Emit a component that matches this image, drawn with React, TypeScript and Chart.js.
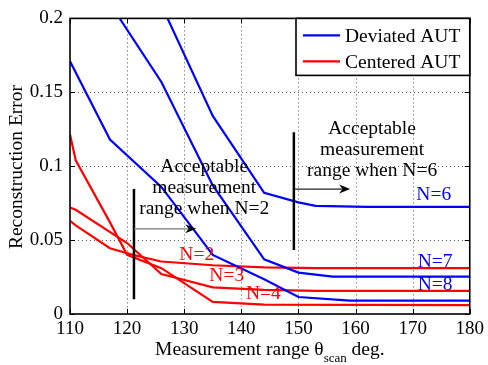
import React, { useEffect, useRef } from "react";
import { Chart, registerables } from "chart.js";

Chart.register(...registerables);

const FONT = '"Liberation Serif", "Times New Roman", serif';

// Axis ticks
const xTickValues = [110, 120, 130, 140, 150, 160, 170, 180];
const xTickLabels = ["110", "120", "130", "140", "150", "160", "170", "180"];
const yTickValues = [0, 0.05, 0.1, 0.15, 0.2];
const yTickLabels = ["0", "0.05", "0.1", "0.15", "0.2"];

// Deviated AUT (blue)
const devN6X = [117, 126, 135, 144, 150, 153, 162, 180];
const devN6Y = [0.285, 0.209, 0.134, 0.082, 0.0755, 0.0732, 0.0725, 0.0725];
const devN7X = [117, 126, 135, 144, 150, 156, 180];
const devN7Y = [0.21, 0.157, 0.087, 0.037, 0.028, 0.0253, 0.0253];
const devN8X = [110, 117, 126, 135, 144, 150, 159, 180];
const devN8Y = [0.171, 0.118, 0.086, 0.04, 0.0235, 0.0115, 0.009, 0.009];

// Centered AUT (red)
const cenN2X = [110, 111, 117, 121, 126, 135, 144, 153, 180];
const cenN2Y = [0.063, 0.06, 0.0445, 0.04, 0.0355, 0.033, 0.0315, 0.031, 0.031];
const cenN3X = [110, 111, 120, 126, 135, 144, 153, 180];
const cenN3Y = [0.072, 0.0705, 0.048, 0.027, 0.018, 0.0163, 0.0157, 0.0156];
const cenN4X = [110, 111, 117, 120, 126, 135, 144, 180];
const cenN4Y = [0.1215, 0.104, 0.062, 0.04, 0.031, 0.0082, 0.0063, 0.006];

const legendLabels = ["Deviated AUT", "Centered AUT"];
const BLUE = "#0000ff";
const RED = "#ff0000";

// Curve labels: [text, x, y, color]
const curveLabels: [string, number, number, string][] = [
  ["N=6", 170.65, 0.0771, BLUE],
  ["N=7", 170.9, 0.0315, BLUE],
  ["N=8", 170.9, 0.016, BLUE],
  ["N=2", 129.15, 0.0365, RED],
  ["N=3", 134.4, 0.022, RED],
  ["N=4", 140.8, 0.01, RED],
];

const note2Lines = ["Acceptable", "measurement", "range when N=2"];
const note6Lines = ["Acceptable", "measurement", "range when N=6"];

function pts(xs: number[], ys: number[]) {
  return xs.map((x, i) => ({ x, y: ys[i] }));
}

function drawArrow(ctx: CanvasRenderingContext2D, x1: number, x2: number, y: number, shaft: string) {
  ctx.save();
  ctx.strokeStyle = shaft;
  ctx.lineWidth = 1.2;
  ctx.beginPath();
  ctx.moveTo(x1, y);
  ctx.lineTo(x2 - 6, y);
  ctx.stroke();
  ctx.fillStyle = "#000";
  ctx.beginPath();
  ctx.moveTo(x2, y);
  ctx.lineTo(x2 - 11, y - 4.5);
  ctx.lineTo(x2 - 7.5, y);
  ctx.lineTo(x2 - 11, y + 4.5);
  ctx.closePath();
  ctx.fill();
  ctx.restore();
}

const gridPlugin = {
  id: "dottedGrid",
  beforeDatasetsDraw(chart: any) {
    const ctx: CanvasRenderingContext2D = chart.ctx;
    const xs = chart.scales.x;
    const ys = chart.scales.y;
    const { left, right, top, bottom } = chart.chartArea;
    ctx.save();
    ctx.strokeStyle = "#555";
    ctx.lineWidth = 1;
    ctx.setLineDash([1, 3]);
    ctx.beginPath();
    xTickValues.slice(1, -1).forEach((v) => {
      const x = Math.round(xs.getPixelForValue(v)) + 0.5;
      ctx.moveTo(x, top);
      ctx.lineTo(x, bottom);
    });
    yTickValues.slice(1, -1).forEach((v) => {
      const y = Math.round(ys.getPixelForValue(v)) + 0.5;
      ctx.moveTo(left, y);
      ctx.lineTo(right, y);
    });
    ctx.stroke();
    ctx.restore();
  },
};

const overlayPlugin = {
  id: "overlay",
  afterDatasetsDraw(chart: any) {
    const ctx: CanvasRenderingContext2D = chart.ctx;
    const xs = chart.scales.x;
    const ys = chart.scales.y;
    const { left, right, top, bottom } = chart.chartArea;
    const px = (v: number) => xs.getPixelForValue(v);
    const py = (v: number) => ys.getPixelForValue(v);

    ctx.save();
    // vertical bars
    ctx.strokeStyle = "#000";
    ctx.lineWidth = 2.5;
    ctx.beginPath();
    ctx.moveTo(px(121.2), py(0.0845));
    ctx.lineTo(px(121.2), py(0.01));
    ctx.moveTo(px(149.2), py(0.123));
    ctx.lineTo(px(149.2), py(0.0433));
    ctx.stroke();
    drawArrow(ctx, px(121.2), px(132.1), py(0.0576), "#777");
    drawArrow(ctx, px(149.2), px(159.05), py(0.0845), "#222");

    // notes
    ctx.font = `19.5px ${FONT}`;
    ctx.fillStyle = "#000";
    ctx.textAlign = "center";
    ctx.textBaseline = "alphabetic";
    note2Lines.forEach((t, i) => ctx.fillText(t, px(133.5), py(0.096) + i * 21));
    note6Lines.forEach((t, i) => ctx.fillText(t, px(162.9), py(0.1217) + i * 21));

    // curve labels
    ctx.textAlign = "left";
    curveLabels.forEach(([t, x, y, c]) => {
      ctx.fillStyle = c;
      ctx.fillText(t, px(x), py(y));
    });

    // inward ticks
    ctx.strokeStyle = "#000";
    ctx.lineWidth = 1;
    ctx.beginPath();
    xTickValues.forEach((v) => {
      const x = Math.round(px(v)) + 0.5;
      ctx.moveTo(x, bottom);
      ctx.lineTo(x, bottom - 5);
      ctx.moveTo(x, top);
      ctx.lineTo(x, top + 5);
    });
    yTickValues.forEach((v) => {
      const y = Math.round(py(v)) + 0.5;
      ctx.moveTo(left, y);
      ctx.lineTo(left + 5, y);
      ctx.moveTo(right, y);
      ctx.lineTo(right - 5, y);
    });
    ctx.stroke();

    // frame
    ctx.lineWidth = 1.6;
    ctx.strokeRect(left, top, right - left, bottom - top);

    // legend
    const lx = 296, ly = top, lw = right - 296, lh = 57;
    ctx.fillStyle = "#fff";
    ctx.fillRect(lx, ly, lw, lh);
    ctx.lineWidth = 1.6;
    ctx.strokeStyle = "#000";
    ctx.strokeRect(lx, ly, lw, lh);
    [BLUE, RED].forEach((c, i) => {
      const y = ly + 17 + i * 26;
      ctx.strokeStyle = c;
      ctx.lineWidth = 2.2;
      ctx.beginPath();
      ctx.moveTo(lx + 7, y);
      ctx.lineTo(lx + 44, y);
      ctx.stroke();
      ctx.fillStyle = "#000";
      ctx.font = `19.5px ${FONT}`;
      ctx.textAlign = "left";
      ctx.textBaseline = "middle";
      ctx.fillText(legendLabels[i], lx + 49, y + 1);
    });

    // x axis title with subscript
    const a = "Measurement range \u03b8";
    const s = "scan";
    const b = " deg.";
    ctx.fillStyle = "#000";
    ctx.textBaseline = "alphabetic";
    ctx.font = `19.5px ${FONT}`;
    const wa = ctx.measureText(a).width;
    const wb = ctx.measureText(b).width;
    ctx.font = `13px ${FONT}`;
    const ws = ctx.measureText(s).width;
    const total = wa + ws + wb;
    const x0 = (left + right) / 2 - total / 2;
    ctx.font = `19.5px ${FONT}`;
    ctx.fillText(a, x0, 355);
    ctx.font = `13px ${FONT}`;
    ctx.fillText(s, x0 + wa, 362);
    ctx.font = `19.5px ${FONT}`;
    ctx.fillText(b, x0 + wa + ws, 355);

    // y axis title
    ctx.save();
    ctx.translate(17, 167);
    ctx.rotate(-Math.PI / 2);
    ctx.textAlign = "center";
    ctx.textBaseline = "middle";
    ctx.fillText("Reconstruction Error", 0, 0);
    ctx.restore();

    ctx.restore();
  },
};

export default function App() {
  const ref = useRef<HTMLCanvasElement>(null);
  useEffect(() => {
    const canvas = ref.current;
    if (!canvas) return;
    const ds = (label: string, xs: number[], ys: number[], color: string) => ({
      label,
      data: pts(xs, ys),
      borderColor: color,
      backgroundColor: color,
      borderWidth: 2.2,
      pointRadius: 0,
      tension: 0,
      fill: false,
      clip: 0,
    });
    const chart = new Chart(canvas, {
      type: "line",
      data: {
        datasets: [
          ds("Deviated N=6", devN6X, devN6Y, BLUE),
          ds("Deviated N=7", devN7X, devN7Y, BLUE),
          ds("Deviated N=8", devN8X, devN8Y, BLUE),
          ds("Centered N=2", cenN2X, cenN2Y, RED),
          ds("Centered N=3", cenN3X, cenN3Y, RED),
          ds("Centered N=4", cenN4X, cenN4Y, RED),
        ],
      },
      options: {
        animation: false,
        responsive: false,
        devicePixelRatio: 1,
        layout: { padding: { top: 14, right: 16, left: 0, bottom: 0 } },
        plugins: { legend: { display: false }, tooltip: { enabled: false } },
        scales: {
          x: {
            type: "linear",
            min: 110,
            max: 180,
            afterFit: (s: any) => {
              s.height = 51;
            },
            afterBuildTicks: (s: any) => {
              s.ticks = xTickValues.map((v) => ({ value: v }));
            },
            ticks: {
              autoSkip: false,
              maxRotation: 0,
              padding: 4,
              color: "#000",
              font: { family: FONT, size: 19 },
              callback: (_v: any, i: number) => xTickLabels[i],
            },
            grid: { display: false, drawTicks: false },
            border: { display: false },
          },
          y: {
            type: "linear",
            min: 0,
            max: 0.2,
            afterFit: (s: any) => {
              s.width = 70;
            },
            afterBuildTicks: (s: any) => {
              s.ticks = yTickValues.map((v) => ({ value: v }));
            },
            ticks: {
              autoSkip: false,
              padding: 7,
              color: "#000",
              font: { family: FONT, size: 19 },
              callback: (_v: any, i: number) => yTickLabels[i],
            },
            grid: { display: false, drawTicks: false },
            border: { display: false },
          },
        },
      },
      plugins: [gridPlugin, overlayPlugin],
    } as any);
    return () => chart.destroy();
  }, []);

  return (
    <div style={{ position: "fixed", left: 0, top: 0, width: 488, height: 365, background: "#fff" }}>
      <canvas ref={ref} width={488} height={365} style={{ width: 488, height: 365, display: "block" }} />
    </div>
  );
}
